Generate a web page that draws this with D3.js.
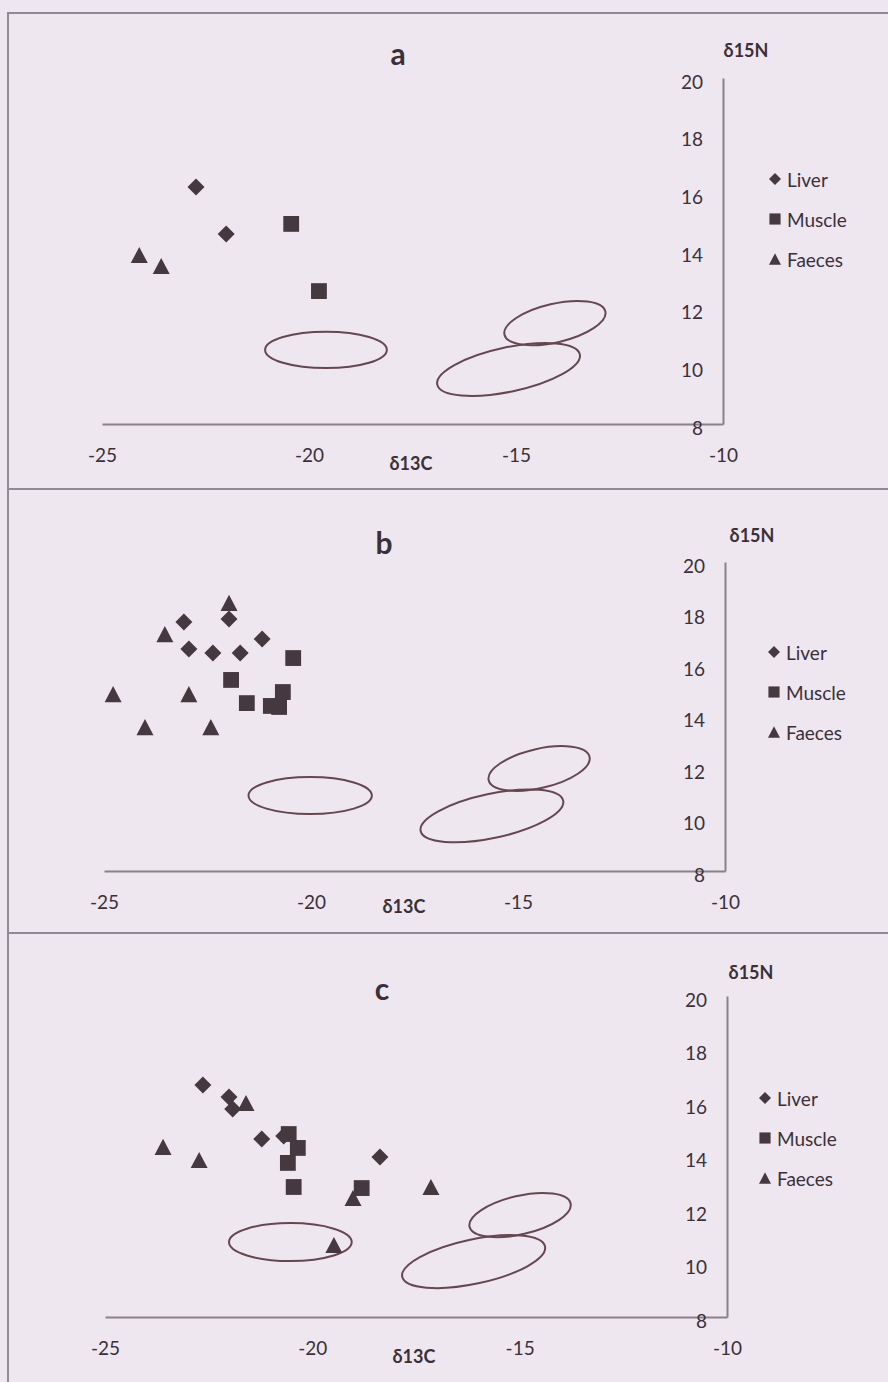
<!DOCTYPE html>
<html><head><meta charset="utf-8">
<script src="https://cdn.jsdelivr.net/npm/d3@7/dist/d3.min.js"></script>
<style>
html,body{margin:0;padding:0;background:#eee7f0;}
svg{display:block;}
text{font-family:Lato,'Open Sans',sans-serif;fill:#3b3038;}
</style></head><body>
<script>
// ---------- DATA ----------
const seriesNames = ["Liver", "Muscle", "Faeces"];
const xTicks = [-25, -20, -15, -10];
const yTicks = [8, 10, 12, 14, 16, 18, 20];
const xDomain = [-25, -10];
const yDomain = [8, 20];
const panelTitles = ["a", "b", "c"];
const xLabel = "δ13C";
const yLabel = "δ15N";

// panel a  [δ13C, δ15N]
const liverA  = [[-22.73, 16.22], [-22.00, 14.59]];
const muscleA = [[-20.43, 14.94], [-19.76, 12.61]];
const faecesA = [[-24.10, 13.86], [-23.57, 13.48]];
// panel b
const liverB  = [[-23.07, 17.67], [-21.98, 17.79], [-21.18, 17.01], [-22.95, 16.62], [-22.37, 16.47], [-21.71, 16.47]];
const muscleB = [[-20.43, 16.27], [-21.93, 15.42], [-20.68, 14.95], [-21.55, 14.52], [-20.97, 14.41], [-20.77, 14.37]];
const faecesB = [[-21.98, 18.41], [-23.53, 17.20], [-24.78, 14.87], [-22.95, 14.87], [-24.01, 13.59], [-22.42, 13.59]];
// panel c
const liverC  = [[-22.64, 16.67], [-22.01, 16.22], [-21.92, 15.78], [-21.22, 14.65], [-18.37, 13.98], [-20.69, 14.77]];
const muscleC = [[-20.57, 14.84], [-20.35, 14.32], [-20.59, 13.76], [-20.45, 12.86], [-18.81, 12.82]];
const faecesC = [[-21.60, 16.00], [-23.60, 14.36], [-22.73, 13.87], [-19.02, 12.45], [-17.14, 12.86], [-19.48, 10.69]];

// ellipses: centre (δ13C, δ15N), semi-axes (δ13C units, δ15N units), tilt in degrees
const ellipsesA = [
  {cx: -19.59, cy: 10.57, a: 1.47, b: 0.63, angle: 0},
  {cx: -14.06, cy: 11.50, a: 1.25, b: 0.67, angle: 13},
  {cx: -15.18, cy: 9.89,  a: 1.76, b: 0.77, angle: 12}
];
const ellipsesB = [
  {cx: -20.02, cy: 10.93, a: 1.49, b: 0.72, angle: 0},
  {cx: -14.49, cy: 11.98, a: 1.25, b: 0.76, angle: 13},
  {cx: -15.63, cy: 10.14, a: 1.76, b: 0.86, angle: 12}
];
const ellipsesC = [
  {cx: -20.53, cy: 10.80, a: 1.48, b: 0.71, angle: 0},
  {cx: -14.99, cy: 11.81, a: 1.25, b: 0.72, angle: 13},
  {cx: -16.11, cy: 10.07, a: 1.76, b: 0.83, angle: 12}
];

// ---------- LAYOUT ----------
const W = 888, H = 1382;
const markColor = "#45393f", axisColor = "#8a8189", ellColor = "#66474f", borderColor = "#8f8a94";
const panels = [
  {title: panelTitles[0], series: [liverA, muscleA, faecesA], ell: ellipsesA,
   x0: 102, x1: 723, yTop: 78, yBot: 424, titleX: 398, titleY: 65,
   ylabX: 746, ylabY: 57, xlabX: 411, xlabY: 470, legX: 787, legY: 180},
  {title: panelTitles[1], series: [liverB, muscleB, faecesB], ell: ellipsesB,
   x0: 104, x1: 725, yTop: 562, yBot: 871, titleX: 384, titleY: 554,
   ylabX: 752, ylabY: 542, xlabX: 404, xlabY: 913, legX: 786, legY: 653},
  {title: panelTitles[2], series: [liverC, muscleC, faecesC], ell: ellipsesC,
   x0: 105, x1: 727, yTop: 996, yBot: 1317, titleX: 382, titleY: 1000,
   ylabX: 751, ylabY: 979, xlabX: 414, xlabY: 1363, legX: 777, legY: 1099}
];

const svg = d3.select("body").append("svg").attr("width", W).attr("height", H);
svg.append("rect").attr("width", W).attr("height", H).attr("fill", "#eee7f0");

// panel frames
[[13, 489], [489, 933], [933, H + 5]].forEach(([t, b]) => {
  svg.append("rect").attr("x", 8).attr("y", t).attr("width", W + 10).attr("height", b - t)
    .attr("fill", "none").attr("stroke", borderColor).attr("stroke-width", 2);
});

// marker shapes
function markerPath(type, s) {
  const h = s / 2;
  if (type === 0) return `M0,${-h}L${h},0L0,${h}L${-h},0Z`;
  if (type === 1) { const q = h * 0.93; return `M${-q},${-q}H${q}V${q}H${-q}Z`; }
  const th = h * 0.95;
  return `M0,${-th}L${h},${th}L${-h},${th}Z`;
}

const fontStack = "Lato,'Open Sans',sans-serif";

panels.forEach(p => {
  const x = d3.scaleLinear().domain(xDomain).range([p.x0, p.x1]);
  const y = d3.scaleLinear().domain(yDomain).range([p.yBot, p.yTop]);
  const g = svg.append("g");

  // x axis
  const xa = g.append("g").attr("transform", `translate(0,${y(8)})`)
    .call(d3.axisBottom(x).tickValues(xTicks).tickSize(0).tickSizeOuter(0).tickFormat(d => String(d)));
  xa.select(".domain").attr("stroke", axisColor).attr("stroke-width", 2);
  xa.selectAll("text").attr("y", 38).attr("dy", null).style("font-size", "19px")
    .style("font-family", fontStack).attr("fill", "#3b3038");

  // y axis
  const ya = g.append("g").attr("transform", `translate(${x(-10)},0)`)
    .call(d3.axisLeft(y).tickValues(yTicks).tickSize(0).tickSizeOuter(0).tickFormat(d => String(d)));
  ya.select(".domain").attr("stroke", axisColor).attr("stroke-width", 2);
  ya.selectAll("text").attr("x", -20).attr("dy", null).attr("y", 10).style("font-size", "19px")
    .style("font-family", fontStack).attr("fill", "#3b3038");

  // titles / labels
  g.append("text").attr("x", p.titleX).attr("y", p.titleY).attr("text-anchor", "middle")
    .style("font-size", "30px").style("font-weight", "700").text(p.title);
  g.append("text").attr("x", p.ylabX).attr("y", p.ylabY).attr("text-anchor", "middle")
    .style("font-size", "18px").style("font-weight", "700").text(yLabel);
  g.append("text").attr("x", p.xlabX).attr("y", p.xlabY).attr("text-anchor", "middle")
    .style("font-size", "18px").style("font-weight", "700").text(xLabel);

  // ellipses
  const kx = x(1) - x(0), ky = y(0) - y(1);
  g.selectAll("ellipse.e").data(p.ell).join("ellipse")
    .attr("transform", d => `translate(${x(d.cx)},${y(d.cy)}) rotate(${-d.angle})`)
    .attr("rx", d => d.a * kx).attr("ry", d => d.b * ky)
    .attr("fill", "none").attr("stroke", ellColor).attr("stroke-width", 2);

  // points
  p.series.forEach((pts, si) => {
    g.selectAll(null).data(pts).join("path")
      .attr("transform", d => `translate(${x(d[0])},${y(d[1])})`)
      .attr("d", markerPath(si, 17)).attr("fill", markColor);
  });

  // legend
  seriesNames.forEach((name, si) => {
    const cy = p.legY + si * 40;
    g.append("path").attr("transform", `translate(${p.legX - 12},${cy - 1})`)
      .attr("d", markerPath(si, 12)).attr("fill", markColor);
    g.append("text").attr("x", p.legX).attr("y", cy + 7).style("font-size", "19px").text(name);
  });
});
</script>
</body></html>
